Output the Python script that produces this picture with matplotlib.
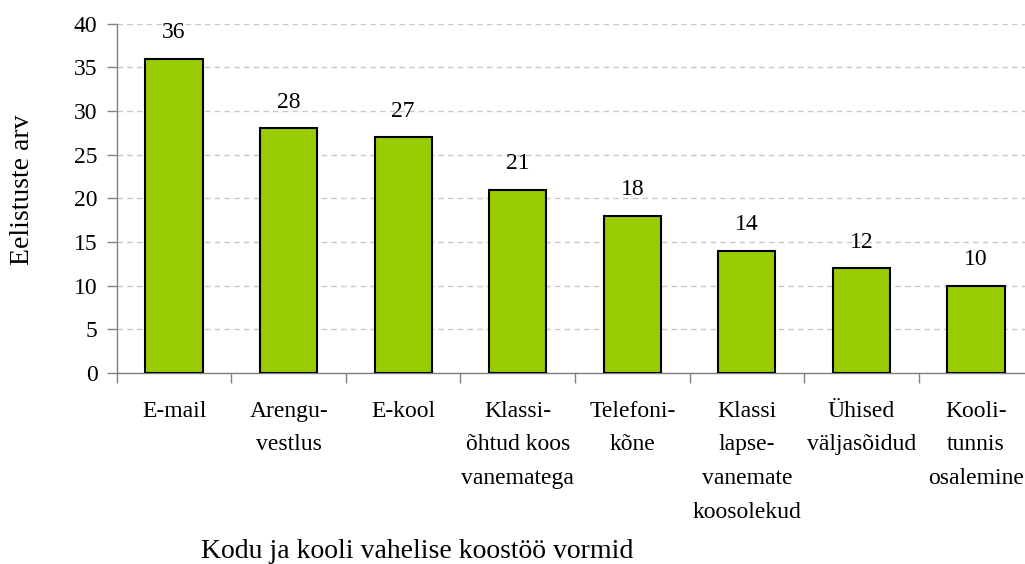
import matplotlib.pyplot as plt
from matplotlib.ticker import FixedLocator, MultipleLocator

categories = [
    "E-mail",
    "Arengu-\nvestlus",
    "E-kool",
    "Klassi-\nõhtud koos\nvanematega",
    "Telefoni-\nkõne",
    "Klassi\nlapse-\nvanemate\nkoosolekud",
    "Ühised\nväljasõidud",
    "Kooli-\ntunnis\nosalemine",
]
counts = [36, 28, 27, 21, 18, 14, 12, 10]

plt.rcParams["font.family"] = ["Liberation Serif", "DejaVu Serif"]

fig = plt.figure(figsize=(10.25, 5.64), dpi=100)
ax = fig.add_axes([0.114, 0.339, 0.894, 0.619])

positions = list(range(len(categories)))
bars = ax.bar(positions, counts, width=0.5, color="#99CC00", edgecolor="black",
              linewidth=1.5, zorder=3)
for rect, value in zip(bars, counts):
    ax.annotate(str(value), (rect.get_x() + rect.get_width() / 2, value),
                xytext=(0, 11), textcoords="offset points",
                ha="center", va="bottom", fontsize=17)

ax.set_xlim(-0.5, len(categories) - 0.5)
ax.set_ylim(0, 40)
ax.yaxis.set_major_locator(MultipleLocator(5))
ax.grid(axis="y", color="#C8C8C8", linestyle=(0, (4, 3)), linewidth=1, zorder=0)

ax.set_xticks(positions)
ax.set_xticklabels(categories, fontsize=17, linespacing=1.8)
ax.xaxis.set_minor_locator(FixedLocator([p - 0.5 for p in positions]))
ax.tick_params(axis="x", which="major", length=0, pad=20)
ax.tick_params(axis="x", which="minor", length=7, width=1, color="#808080", direction="out")
ax.tick_params(axis="y", length=7, width=1, color="#808080", labelsize=17, pad=7)

for side in ("top", "right"):
    ax.spines[side].set_visible(False)
for side in ("left", "bottom"):
    ax.spines[side].set_color("#808080")
    ax.spines[side].set_linewidth(1)

fig.text(23 / 1025, 1 - 190 / 564, "Eelistuste arv", rotation=90,
         ha="center", va="center", fontsize=20)
fig.text(417 / 1025, 1 - 551 / 564, "Kodu ja kooli vahelise koostöö vormid",
         ha="center", va="center", fontsize=20)

fig.savefig("out.png", dpi=100)
